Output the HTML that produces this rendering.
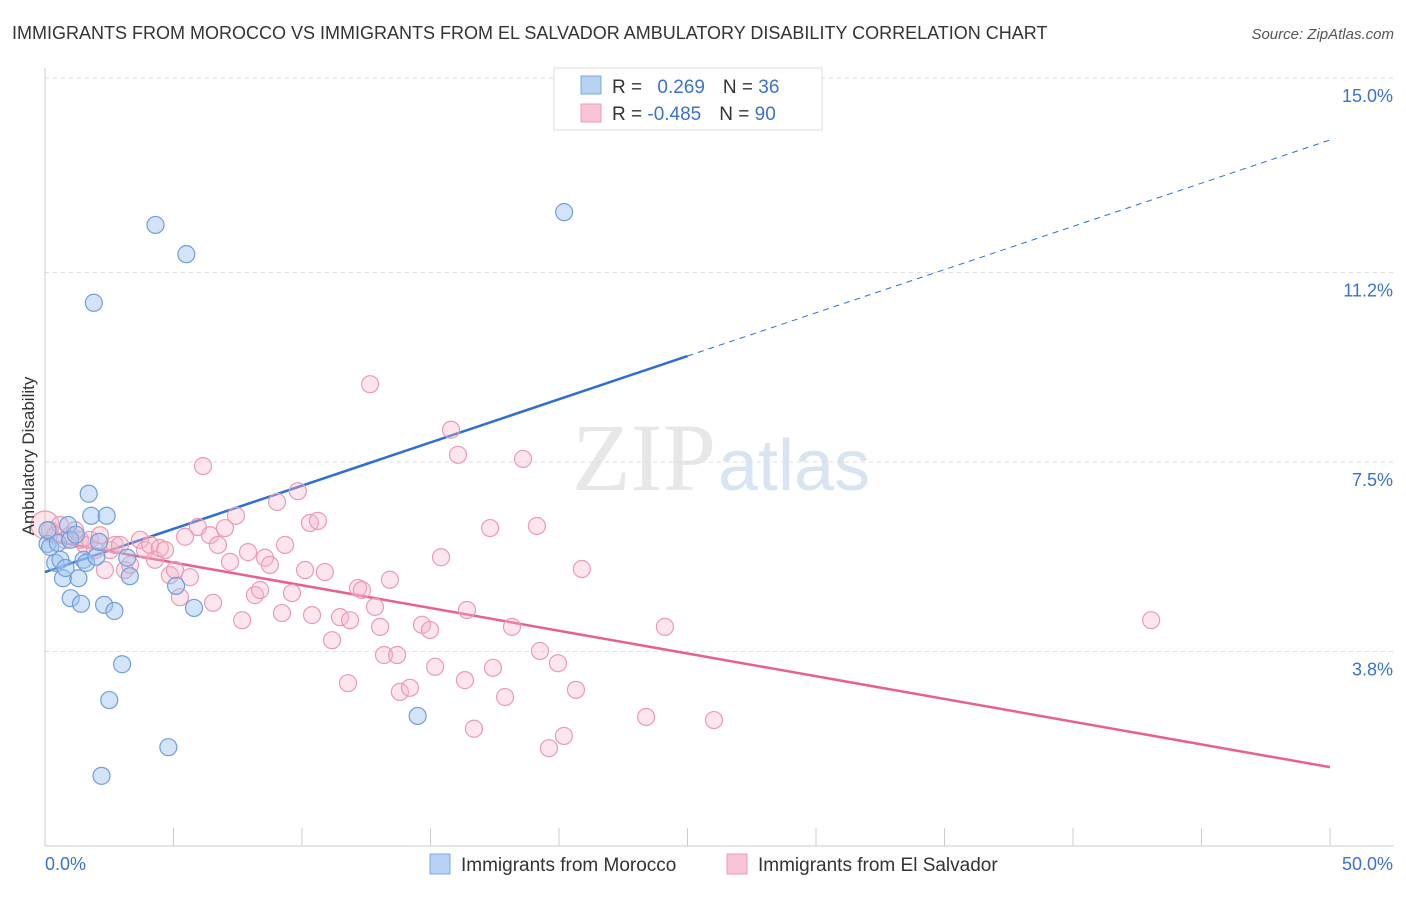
<!DOCTYPE html>
<html><head><meta charset="utf-8"><style>
body{margin:0;background:#fff;font-family:"Liberation Sans",sans-serif}
</style></head><body>
<svg id="chart" width="1406" height="892" xmlns="http://www.w3.org/2000/svg" font-family="Liberation Sans, sans-serif">
<text x="12" y="39" font-size="18" fill="#333">IMMIGRANTS FROM MOROCCO VS IMMIGRANTS FROM EL SALVADOR AMBULATORY DISABILITY CORRELATION CHART</text>
<text x="1394" y="39" font-size="15" fill="#555" font-style="italic" text-anchor="end">Source: ZipAtlas.com</text>
<text x="716" y="490" font-size="96" fill="#ddd" text-anchor="end" font-family="Liberation Serif, serif" opacity="0.7">ZIP</text>
<text x="718" y="490" font-size="72" fill="#c9d9ee" opacity="0.7">atlas</text>
<g id="grid"></g><g id="axes"></g><g id="lines"></g><g id="pts"></g>
<text transform="translate(34,456) rotate(-90)" font-size="17" fill="#333" text-anchor="middle">Ambulatory Disability</text>
<g>
<rect x="554" y="68" width="268" height="62" fill="#fff" stroke="#ddd"/>
<rect x="581" y="76" width="20" height="18" fill="#b5d1f4" stroke="#7aa8e0"/>
<rect x="581" y="104" width="20" height="18" fill="#f9c4d3" stroke="#ee9db4"/>
<text x="612" y="93" font-size="19" fill="#333">R = <tspan fill="#3a73c8" dx="10">0.269</tspan><tspan dx="18">N = </tspan><tspan fill="#3a73c8">36</tspan></text>
<text x="612" y="120" font-size="19" fill="#333">R = <tspan fill="#3a73c8">-0.485</tspan><tspan dx="18">N = </tspan><tspan fill="#3a73c8">90</tspan></text>
</g>
<g>
<rect x="430" y="854" width="20" height="20" fill="#b5d1f4" stroke="#7aa8e0"/>
<text x="461" y="871" font-size="19" fill="#333">Immigrants from Morocco</text>
<rect x="727" y="854" width="20" height="20" fill="#f9c4d3" stroke="#ee9db4"/>
<text x="758" y="871" font-size="19" fill="#333">Immigrants from El Salvador</text>
</g>
</svg>
<script>
const yTicks=[3.8,7.5,11.2,15.0];
const yTickLabels=["3.8%","7.5%","11.2%","15.0%"];
const xTickLabels=["0.0%","50.0%"];
const blueTrend=[5.35,0.1688];
const pinkTrend=[5.98,-0.0888];
const blueX=[0.1,0.2,0.4,0.5,0.6,0.7,0.8,0.9,1.0,1.3,1.4,1.5,1.6,1.7,1.8,1.9,2.0,2.1,2.2,2.3,2.4,2.5,2.7,3.0,3.2,3.3,4.3,4.8,5.1,5.5,5.8,14.5,20.2,0.1,0.98,1.2];
const blueY=[5.9,5.84,5.53,5.92,5.59,5.23,5.43,6.27,4.84,5.23,4.73,5.59,5.53,6.88,6.45,10.61,5.65,5.94,1.37,4.71,6.45,2.85,4.59,3.55,5.63,5.27,12.13,1.93,5.08,11.56,4.65,2.54,12.38,6.17,5.98,6.08];
const pinkX=[0,0.19,0.39,0.58,0.78,0.97,1.17,1.36,1.56,1.75,
1.95,2.14,2.33,2.53,2.72,2.92,3.11,3.31,3.70,3.89,
4.09,4.28,4.47,4.67,4.86,5.06,5.25,5.45,5.64,5.95,
6.15,6.42,6.54,6.73,7.0,7.2,7.43,7.67,7.9,8.17,
8.37,8.56,8.75,9.03,9.22,9.34,9.61,9.84,10.12,10.31,
10.39,10.62,10.89,11.17,11.48,11.79,11.87,12.18,12.33,12.65,
12.84,13.04,13.19,13.42,13.7,13.81,14.2,14.67,14.98,15.18,
15.41,15.8,16.07,16.34,16.42,16.69,17.43,17.9,18.17,18.6,
19.14,19.26,19.61,19.96,20.19,20.66,20.89,23.39,24.12,26.03,
43.04,17.32];
const pinkY=[6.27,6.17,6.07,6.27,5.98,6.07,6.17,5.98,5.88,5.98,
5.78,6.07,5.39,5.78,5.88,5.88,5.39,5.49,5.98,5.78,
5.88,5.59,5.82,5.78,5.29,5.39,4.86,6.04,5.25,6.23,
7.42,6.07,4.75,5.88,6.21,5.55,6.45,4.41,5.74,4.90,
5.0,5.63,5.49,6.72,4.55,5.88,4.94,6.93,5.39,6.31,
4.51,6.35,5.35,4.02,4.47,3.18,4.41,5.04,5.0,9.02,
4.67,4.28,3.73,5.2,3.73,3.01,3.09,4.32,4.22,3.5,
5.64,8.13,7.64,3.24,4.61,2.29,3.48,2.91,4.28,7.56,
6.25,3.81,1.91,3.57,2.15,3.05,5.41,2.52,4.28,2.46,
4.41,6.21];
const NS="http://www.w3.org/2000/svg";
const X=v=>45+v/50*1285, Y=v=>846-v/15*768;
function mk(t,a,p){const e=document.createElementNS(NS,t);for(const k in a)e.setAttribute(k,a[k]);document.getElementById(p).appendChild(e);return e;}
yTicks.forEach((t,i)=>{
 const g=mk('line',{x1:45,x2:1394,y1:Y(t),y2:Y(t),stroke:'#ddd','stroke-dasharray':'4,4'},'grid');
 
 
 const l=mk('text',{x:1393,y:Y(t)+24,'font-size':18,fill:'#3a73c8','text-anchor':'end'},'axes');l.textContent=yTickLabels[i];
 
 
});
const ax=mk('line',{x1:45,x2:1394,y1:846,y2:846,stroke:'#ccc'},'axes');


const ay=mk('line',{x1:45,x2:45,y1:68,y2:846,stroke:'#ccc'},'axes');


for(let i=0;i<=10;i++){const t=mk('line',{x1:X(i*5),x2:X(i*5),y1:828,y2:846,stroke:'#ccc'},'axes');
 
 }
const xl0=mk('text',{x:45,y:870,'font-size':18,fill:'#3a73c8'},'axes');xl0.textContent=xTickLabels[0];


const xl1=mk('text',{x:1393,y:870,'font-size':18,fill:'#3a73c8','text-anchor':'end'},'axes');xl1.textContent=xTickLabels[1];


const [ba,bb]=blueTrend,[pa,pb]=pinkTrend;
const b1=mk('line',{x1:X(0),y1:Y(ba),x2:X(25),y2:Y(ba+bb*25),stroke:'#2e6fd6','stroke-width':2.5},'lines');


const b2=mk('line',{x1:X(25),y1:Y(ba+bb*25),x2:X(50),y2:Y(ba+bb*50),stroke:'#2e6fd6','stroke-width':1,'stroke-dasharray':'6,5'},'lines');


const p1=mk('line',{x1:X(0),y1:Y(pa),x2:X(50),y2:Y(pa+pb*50),stroke:'#e8608c','stroke-width':2.5},'lines');


pinkX.forEach((v,i)=>{const c=mk('circle',{cx:X(v),cy:Y(pinkY[i]),r:i==0?14:8.5,fill:'rgba(247,180,200,0.35)',stroke:'#ec9ab3','stroke-width':1.2},'pts');
 
 });
blueX.forEach((v,i)=>{const c=mk('circle',{cx:X(v),cy:Y(blueY[i]),r:8.5,fill:'rgba(160,195,240,0.45)',stroke:'#6f9fdc','stroke-width':1.2},'pts');
 
 });
</script>
</body></html>
